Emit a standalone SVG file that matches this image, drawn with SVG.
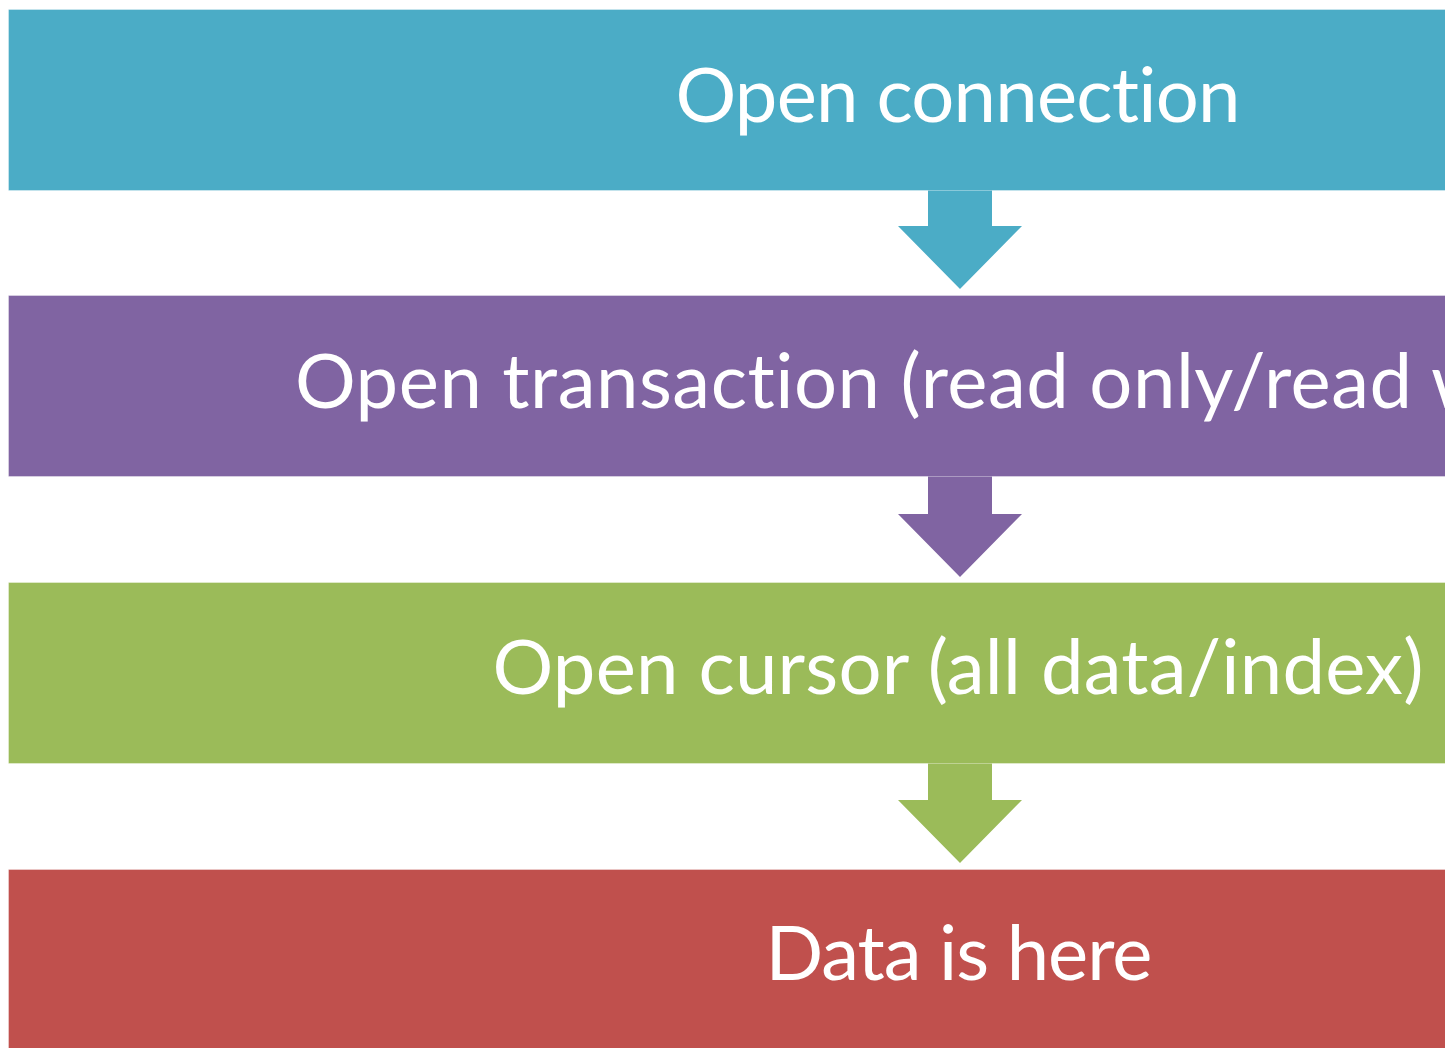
<svg xmlns="http://www.w3.org/2000/svg" width="1445" height="1048" viewBox="0 0 1445 1048">
<style>
.band{stroke:#ffffff;stroke-opacity:0.35;stroke-width:1}
.lbl{font-family:Lato,"Open Sans","Liberation Sans",sans-serif;font-size:76px;fill:#ffffff;text-anchor:middle;font-variant-ligatures:none}
</style>
<rect width="1445" height="1048" fill="#ffffff"/>
<g id="connectors">
<polygon points="928,189 992,189 992,226 1022,226 960,289 898,226 928,226" fill="#4BACC6"/>
<polygon points="928,476 992,476 992,514 1022,514 960,577 898,514 928,514" fill="#8064A2"/>
<polygon points="928,762 992,762 992,800 1022,800 960,863 898,800 928,800" fill="#9BBB59"/>
</g>
<g id="node1"><rect class="band" x="8.5" y="9.5" width="1904" height="181" fill="#4BACC6"/><text class="lbl" x="958" y="122" textLength="565" lengthAdjust="spacing">Open connection</text></g>
<g id="node2"><rect class="band" x="8.5" y="295.5" width="1904" height="181" fill="#8064A2"/><text class="lbl" x="960" y="408" textLength="1330" lengthAdjust="spacing">Open transaction (read only/read write)</text></g>
<g id="node3"><rect class="band" x="8.5" y="582.5" width="1904" height="181" fill="#9BBB59"/><text class="lbl" x="958" y="694" textLength="931" lengthAdjust="spacing">Open cursor (all data/index)</text></g>
<g id="node4"><rect class="band" x="8.5" y="869.5" width="1904" height="181" fill="#C0504D"/><text class="lbl" x="959" y="980" textLength="387" lengthAdjust="spacing">Data is here</text></g>
</svg>
